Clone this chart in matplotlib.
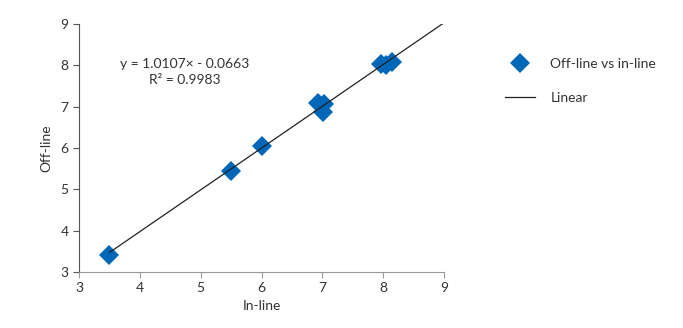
import matplotlib.pyplot as plt
from matplotlib.lines import Line2D

plt.rcParams['font.family'] = ['Lato', 'DejaVu Sans']

# In-line vs off-line measurements
in_line = [3.49, 5.50, 6.00, 6.93, 7.01, 7.03, 7.97, 8.05, 8.15]
off_line = [3.42, 5.45, 6.04, 7.10, 6.88, 7.06, 8.03, 8.02, 8.08]

# Linear fit
slope = 1.0107
intercept = -0.0663
r2 = 0.9983
fit_x = [3.5, 9.0]

blue = '#0067b8'
text_col = '#333333'

fig = plt.figure(figsize=(6.83, 3.28), dpi=100)
ax = fig.add_axes([79 / 683, 56 / 328, 365 / 683, 248 / 328])

ax.plot(fit_x, [slope * x + intercept for x in fit_x], color='#222222', lw=0.9, zorder=3)
ax.plot(in_line, off_line, linestyle='none', marker='D', markersize=10.5,
        color=blue, markeredgewidth=0, zorder=2)

ax.set_xlim(3, 9)
ax.set_ylim(3, 9)
ax.set_xticks(range(3, 10))
ax.set_yticks(range(3, 10))
ax.set_xlabel('In-line', fontsize=10, color=text_col, labelpad=4)
ax.set_ylabel('Off-line', fontsize=10, color=text_col, labelpad=6)

for s in ['top', 'right']:
    ax.spines[s].set_visible(False)
ax.spines['left'].set_color('#555555')
ax.spines['bottom'].set_color('#999999')
ax.tick_params(axis='both', labelsize=10, colors=text_col, length=4, width=0.8)
ax.tick_params(axis='x', color='#999999')
ax.tick_params(axis='y', color='#555555')

# Trendline equation
fig.text(185 / 683, 1 - 64 / 328, 'y = %.4f\u00d7 - %.4f' % (slope, -intercept),
         fontsize=10, color=text_col, ha='center', va='center')
fig.text(185 / 683, 1 - 80 / 328, 'R\u00b2 = %.4f' % r2, fontsize=10, color=text_col,
         ha='center', va='center')

handles = [
    Line2D([], [], linestyle='none', marker='D', markersize=10.5, color=blue, markeredgewidth=0),
    Line2D([], [], color='#222222', lw=0.9),
]
fig.legend(handles, ['Off-line vs in-line', 'Linear'], loc='upper left',
           bbox_to_anchor=(492 / 683, 1 - 45 / 328), frameon=False, fontsize=10,
           labelspacing=1.6, handlelength=2.2, handletextpad=1.1, labelcolor=text_col)

fig.savefig('out.png', dpi=100)
